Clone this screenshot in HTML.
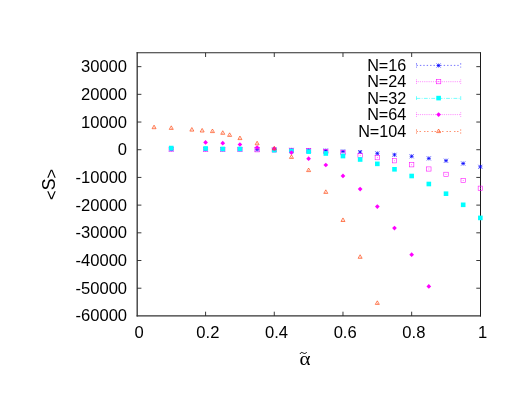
<!DOCTYPE html>
<html><head><meta charset="utf-8"><title>plot</title>
<style>
html,body{margin:0;padding:0;background:#fff;}
body{width:523px;height:404px;position:relative;overflow:hidden;font-family:"Liberation Sans",sans-serif;}
</style></head><body>
<svg width="523" height="404" viewBox="0 0 523 404" style="position:absolute;left:0;top:0;will-change:transform">
<path d="M137.2 52.25V316.5" stroke="#3a3a3a" stroke-width="1.35" fill="none"/>
<path d="M136.6 315.95H481.0" stroke="#333" stroke-width="1.25" fill="none"/>
<path d="M480.5 52.25V316.5" stroke="#1c1c1c" stroke-width="1.0" fill="none"/>
<path d="M136.6 52.8H481.0" stroke="#2a2a2a" stroke-width="1.1" fill="none"/>
<path d="M137.2 288.21h4.2M480.5 288.21h-4.2M137.2 260.51h4.2M480.5 260.51h-4.2M137.2 232.82h4.2M480.5 232.82h-4.2M137.2 205.12h4.2M480.5 205.12h-4.2M137.2 177.43h4.2M480.5 177.43h-4.2M137.2 149.73h4.2M480.5 149.73h-4.2M137.2 122.04h4.2M480.5 122.04h-4.2M137.2 94.34h4.2M480.5 94.34h-4.2M137.2 66.65h4.2M480.5 66.65h-4.2M205.59 315.9v-4.2M205.59 52.8v4.2M274.28 315.9v-4.2M274.28 52.8v4.2M342.97 315.9v-4.2M342.97 52.8v4.2M411.66 315.9v-4.2M411.66 52.8v4.2" stroke="#222" stroke-width="0.9" fill="none"/>
<g font-family="Liberation Sans, sans-serif" font-size="16.6" fill="#000">
<text x="127.1" y="72.45" text-anchor="end">30000</text>
<text x="127.1" y="100.10" text-anchor="end">20000</text>
<text x="127.1" y="127.75" text-anchor="end">10000</text>
<text x="127.1" y="155.40" text-anchor="end">0</text>
<text x="127.1" y="183.05" text-anchor="end">-10000</text>
<text x="127.1" y="210.70" text-anchor="end">-20000</text>
<text x="127.1" y="238.35" text-anchor="end">-30000</text>
<text x="127.1" y="266.00" text-anchor="end">-40000</text>
<text x="127.1" y="293.65" text-anchor="end">-50000</text>
<text x="127.1" y="321.30" text-anchor="end">-60000</text>
<text x="139.20" y="337.7" text-anchor="middle">0</text>
<text x="207.86" y="337.7" text-anchor="middle">0.2</text>
<text x="276.52" y="337.7" text-anchor="middle">0.4</text>
<text x="345.18" y="337.7" text-anchor="middle">0.6</text>
<text x="413.84" y="337.7" text-anchor="middle">0.8</text>
<text x="482.50" y="337.7" text-anchor="middle">1</text>
<text transform="translate(55.2 184.3) rotate(-90)" text-anchor="middle"><tspan dy="1.6">&lt;</tspan><tspan dy="-1.6" font-size="17.7">S</tspan><tspan dy="1.6">&gt;</tspan></text>
<text x="406.3" y="71.15" text-anchor="end" font-size="16.2">N=16</text>
<text x="406.3" y="87.45" text-anchor="end" font-size="16.2">N=24</text>
<text x="406.3" y="103.75" text-anchor="end" font-size="16.2">N=32</text>
<text x="406.3" y="120.15" text-anchor="end" font-size="16.2">N=64</text>
<text x="406.3" y="136.55" text-anchor="end" font-size="16.2">N=104</text>
</g>
<text transform="translate(299.6 364.8) scale(1.12 1)" font-family="Liberation Serif, serif" font-size="18.8" fill="#000">α</text>
<path d="M300.1 353.9 C300.6 352.5 301.6 352.1 302.6 352.7 S304.6 353.8 305.4 353.3 S306.4 352.7 306.8 352.1" stroke="#000" stroke-width="1.0" fill="none"/>
<path d="M416.5 65.4H460.7" stroke="#0000ff" stroke-width="0.55" stroke-dasharray="1.4 2.0" fill="none"/>
<path d="M416.5 63.2v4.4M460.7 63.2v4.4" stroke="#0000ff" stroke-width="0.55" stroke-dasharray="1.4 2.0" fill="none"/>
<path d="M436.60 65.50H440.60M438.60 63.50V67.50M436.60 63.50L440.60 67.50M436.60 67.50L440.60 63.50" stroke="#0000ff" stroke-width="0.7" fill="none"/>
<path d="M416.5 81.7H460.7" stroke="#ff00ff" stroke-width="0.55" stroke-dasharray="0.75 1.1" fill="none"/>
<path d="M416.5 79.5v4.4M460.7 79.5v4.4" stroke="#ff00ff" stroke-width="0.55" stroke-dasharray="0.75 1.1" fill="none"/>
<rect x="436.40" y="79.60" width="4.40" height="4.20" stroke="#ff00ff" stroke-width="0.55" fill="none"/><rect x="438.25" y="81.35" width="0.7" height="0.7" fill="#ff00ff"/>
<path d="M416.5 98.4H460.7" stroke="#00ffff" stroke-width="0.55" stroke-dasharray="3.8 1.4 0.8 1.4" fill="none"/>
<path d="M416.5 96.2v4.4M460.7 96.2v4.4" stroke="#00ffff" stroke-width="0.55" stroke-dasharray="3.8 1.4 0.8 1.4" fill="none"/>
<rect x="436.30" y="95.80" width="4.60" height="4.60" fill="#00ffff"/>
<path d="M416.5 114.6H460.7" stroke="#ff00ff" stroke-width="0.55" stroke-dasharray="0.75 1.1" fill="none"/>
<path d="M416.5 112.39999999999999v4.4M460.7 112.39999999999999v4.4" stroke="#ff00ff" stroke-width="0.55" stroke-dasharray="0.75 1.1" fill="none"/>
<path d="M438.60 112.25L440.95 114.60L438.60 116.95L436.25 114.60Z" fill="#ff00ff"/>
<path d="M416.5 131.5H460.7" stroke="#ff3c00" stroke-width="0.55" stroke-dasharray="1.5 1.5 1.5 3" fill="none"/>
<path d="M416.5 129.3v4.4M460.7 129.3v4.4" stroke="#ff3c00" stroke-width="0.55" stroke-dasharray="1.5 1.5 1.5 3" fill="none"/>
<path d="M438.60 129.04L436.60 132.60H440.60Z" stroke="#ff3c00" stroke-width="0.65" fill="none" stroke-linejoin="miter"/><rect x="438.30" y="131.20" width="0.6" height="0.6" fill="#ff3c00"/>
<path d="M169.25 149.40H173.25M171.25 147.40V151.40M169.25 147.40L173.25 151.40M169.25 151.40L173.25 147.40" stroke="#0000ff" stroke-width="0.7" fill="none"/>
<path d="M203.59 149.40H207.59M205.59 147.40V151.40M203.59 147.40L207.59 151.40M203.59 151.40L207.59 147.40" stroke="#0000ff" stroke-width="0.7" fill="none"/>
<path d="M220.76 149.50H224.76M222.76 147.50V151.50M220.76 147.50L224.76 151.50M220.76 151.50L224.76 147.50" stroke="#0000ff" stroke-width="0.7" fill="none"/>
<path d="M237.94 149.50H241.94M239.94 147.50V151.50M237.94 147.50L241.94 151.50M237.94 151.50L241.94 147.50" stroke="#0000ff" stroke-width="0.7" fill="none"/>
<path d="M255.11 149.60H259.11M257.11 147.60V151.60M255.11 147.60L259.11 151.60M255.11 151.60L259.11 147.60" stroke="#0000ff" stroke-width="0.7" fill="none"/>
<path d="M272.28 149.70H276.28M274.28 147.70V151.70M272.28 147.70L276.28 151.70M272.28 151.70L276.28 147.70" stroke="#0000ff" stroke-width="0.7" fill="none"/>
<path d="M289.45 149.90H293.45M291.45 147.90V151.90M289.45 147.90L293.45 151.90M289.45 151.90L293.45 147.90" stroke="#0000ff" stroke-width="0.7" fill="none"/>
<path d="M306.62 150.10H310.62M308.62 148.10V152.10M306.62 148.10L310.62 152.10M306.62 152.10L310.62 148.10" stroke="#0000ff" stroke-width="0.7" fill="none"/>
<path d="M323.80 150.50H327.80M325.80 148.50V152.50M323.80 148.50L327.80 152.50M323.80 152.50L327.80 148.50" stroke="#0000ff" stroke-width="0.7" fill="none"/>
<path d="M340.97 151.40H344.97M342.97 149.40V153.40M340.97 149.40L344.97 153.40M340.97 153.40L344.97 149.40" stroke="#0000ff" stroke-width="0.7" fill="none"/>
<path d="M358.14 152.00H362.14M360.14 150.00V154.00M358.14 150.00L362.14 154.00M358.14 154.00L362.14 150.00" stroke="#0000ff" stroke-width="0.7" fill="none"/>
<path d="M375.32 153.40H379.32M377.32 151.40V155.40M375.32 151.40L379.32 155.40M375.32 155.40L379.32 151.40" stroke="#0000ff" stroke-width="0.7" fill="none"/>
<path d="M392.49 154.80H396.49M394.49 152.80V156.80M392.49 152.80L396.49 156.80M392.49 156.80L396.49 152.80" stroke="#0000ff" stroke-width="0.7" fill="none"/>
<path d="M409.66 156.30H413.66M411.66 154.30V158.30M409.66 154.30L413.66 158.30M409.66 158.30L413.66 154.30" stroke="#0000ff" stroke-width="0.7" fill="none"/>
<path d="M426.83 158.40H430.83M428.83 156.40V160.40M426.83 156.40L430.83 160.40M426.83 160.40L430.83 156.40" stroke="#0000ff" stroke-width="0.7" fill="none"/>
<path d="M444.01 160.70H448.01M446.01 158.70V162.70M444.01 158.70L448.01 162.70M444.01 162.70L448.01 158.70" stroke="#0000ff" stroke-width="0.7" fill="none"/>
<path d="M461.18 163.50H465.18M463.18 161.50V165.50M461.18 161.50L465.18 165.50M461.18 165.50L465.18 161.50" stroke="#0000ff" stroke-width="0.7" fill="none"/>
<path d="M478.35 166.80H482.35M480.35 164.80V168.80M478.35 164.80L482.35 168.80M478.35 168.80L482.35 164.80" stroke="#0000ff" stroke-width="0.7" fill="none"/>
<rect x="169.05" y="147.00" width="4.40" height="4.20" stroke="#ff00ff" stroke-width="0.55" fill="none"/><rect x="170.90" y="148.75" width="0.7" height="0.7" fill="#ff00ff"/>
<rect x="203.39" y="147.30" width="4.40" height="4.20" stroke="#ff00ff" stroke-width="0.55" fill="none"/><rect x="205.24" y="149.05" width="0.7" height="0.7" fill="#ff00ff"/>
<rect x="220.56" y="147.40" width="4.40" height="4.20" stroke="#ff00ff" stroke-width="0.55" fill="none"/><rect x="222.41" y="149.15" width="0.7" height="0.7" fill="#ff00ff"/>
<rect x="237.74" y="147.50" width="4.40" height="4.20" stroke="#ff00ff" stroke-width="0.55" fill="none"/><rect x="239.59" y="149.25" width="0.7" height="0.7" fill="#ff00ff"/>
<rect x="254.91" y="147.70" width="4.40" height="4.20" stroke="#ff00ff" stroke-width="0.55" fill="none"/><rect x="256.76" y="149.45" width="0.7" height="0.7" fill="#ff00ff"/>
<rect x="272.08" y="147.90" width="4.40" height="4.20" stroke="#ff00ff" stroke-width="0.55" fill="none"/><rect x="273.93" y="149.65" width="0.7" height="0.7" fill="#ff00ff"/>
<rect x="289.25" y="148.20" width="4.40" height="4.20" stroke="#ff00ff" stroke-width="0.55" fill="none"/><rect x="291.10" y="149.95" width="0.7" height="0.7" fill="#ff00ff"/>
<rect x="306.43" y="148.70" width="4.40" height="4.20" stroke="#ff00ff" stroke-width="0.55" fill="none"/><rect x="308.27" y="150.45" width="0.7" height="0.7" fill="#ff00ff"/>
<rect x="323.60" y="149.50" width="4.40" height="4.20" stroke="#ff00ff" stroke-width="0.55" fill="none"/><rect x="325.45" y="151.25" width="0.7" height="0.7" fill="#ff00ff"/>
<rect x="340.77" y="150.70" width="4.40" height="4.20" stroke="#ff00ff" stroke-width="0.55" fill="none"/><rect x="342.62" y="152.45" width="0.7" height="0.7" fill="#ff00ff"/>
<rect x="357.94" y="153.35" width="4.40" height="4.20" stroke="#ff00ff" stroke-width="0.55" fill="none"/><rect x="359.79" y="155.10" width="0.7" height="0.7" fill="#ff00ff"/>
<rect x="375.12" y="155.60" width="4.40" height="4.20" stroke="#ff00ff" stroke-width="0.55" fill="none"/><rect x="376.97" y="157.35" width="0.7" height="0.7" fill="#ff00ff"/>
<rect x="392.29" y="158.70" width="4.40" height="4.20" stroke="#ff00ff" stroke-width="0.55" fill="none"/><rect x="394.14" y="160.45" width="0.7" height="0.7" fill="#ff00ff"/>
<rect x="409.46" y="162.70" width="4.40" height="4.20" stroke="#ff00ff" stroke-width="0.55" fill="none"/><rect x="411.31" y="164.45" width="0.7" height="0.7" fill="#ff00ff"/>
<rect x="426.63" y="166.90" width="4.40" height="4.20" stroke="#ff00ff" stroke-width="0.55" fill="none"/><rect x="428.48" y="168.65" width="0.7" height="0.7" fill="#ff00ff"/>
<rect x="443.81" y="172.20" width="4.40" height="4.20" stroke="#ff00ff" stroke-width="0.55" fill="none"/><rect x="445.66" y="173.95" width="0.7" height="0.7" fill="#ff00ff"/>
<rect x="460.98" y="178.50" width="4.40" height="4.20" stroke="#ff00ff" stroke-width="0.55" fill="none"/><rect x="462.83" y="180.25" width="0.7" height="0.7" fill="#ff00ff"/>
<rect x="478.15" y="186.10" width="4.40" height="4.20" stroke="#ff00ff" stroke-width="0.55" fill="none"/><rect x="480.00" y="187.85" width="0.7" height="0.7" fill="#ff00ff"/>
<rect x="168.94" y="145.75" width="4.60" height="4.60" fill="#00ffff"/>
<rect x="203.29" y="146.15" width="4.60" height="4.60" fill="#00ffff"/>
<rect x="220.46" y="146.65" width="4.60" height="4.60" fill="#00ffff"/>
<rect x="237.63" y="146.65" width="4.60" height="4.60" fill="#00ffff"/>
<rect x="271.98" y="147.85" width="4.60" height="4.60" fill="#00ffff"/>
<rect x="289.15" y="148.75" width="4.60" height="4.60" fill="#00ffff"/>
<rect x="306.32" y="149.35" width="4.60" height="4.60" fill="#00ffff"/>
<rect x="323.50" y="151.20" width="4.60" height="4.60" fill="#00ffff"/>
<rect x="340.67" y="153.75" width="4.60" height="4.60" fill="#00ffff"/>
<rect x="357.84" y="157.20" width="4.60" height="4.60" fill="#00ffff"/>
<rect x="375.02" y="161.55" width="4.60" height="4.60" fill="#00ffff"/>
<rect x="392.19" y="167.00" width="4.60" height="4.60" fill="#00ffff"/>
<rect x="409.36" y="173.70" width="4.60" height="4.60" fill="#00ffff"/>
<rect x="426.53" y="181.70" width="4.60" height="4.60" fill="#00ffff"/>
<rect x="443.71" y="191.40" width="4.60" height="4.60" fill="#00ffff"/>
<rect x="460.88" y="202.50" width="4.60" height="4.60" fill="#00ffff"/>
<rect x="478.05" y="215.60" width="4.60" height="4.60" fill="#00ffff"/>
<path d="M205.59 140.05L207.94 142.40L205.59 144.75L203.24 142.40Z" fill="#ff00ff"/>
<path d="M222.76 140.85L225.11 143.20L222.76 145.55L220.41 143.20Z" fill="#ff00ff"/>
<path d="M239.94 142.15L242.28 144.50L239.94 146.85L237.59 144.50Z" fill="#ff00ff"/>
<path d="M257.11 145.15L259.46 147.50L257.11 149.85L254.76 147.50Z" fill="#ff00ff"/>
<path d="M274.28 146.35L276.63 148.70L274.28 151.05L271.93 148.70Z" fill="#ff00ff"/>
<path d="M291.45 150.25L293.80 152.60L291.45 154.95L289.10 152.60Z" fill="#ff00ff"/>
<path d="M308.62 156.35L310.98 158.70L308.62 161.05L306.27 158.70Z" fill="#ff00ff"/>
<path d="M325.80 162.65L328.15 165.00L325.80 167.35L323.45 165.00Z" fill="#ff00ff"/>
<path d="M342.97 173.55L345.32 175.90L342.97 178.25L340.62 175.90Z" fill="#ff00ff"/>
<path d="M360.14 186.75L362.49 189.10L360.14 191.45L357.79 189.10Z" fill="#ff00ff"/>
<path d="M377.32 204.25L379.67 206.60L377.32 208.95L374.97 206.60Z" fill="#ff00ff"/>
<path d="M394.49 225.75L396.84 228.10L394.49 230.45L392.14 228.10Z" fill="#ff00ff"/>
<path d="M411.66 252.35L414.01 254.70L411.66 257.05L409.31 254.70Z" fill="#ff00ff"/>
<path d="M428.83 284.10L431.18 286.45L428.83 288.80L426.48 286.45Z" fill="#ff00ff"/>
<path d="M154.07 125.14L152.07 128.70H156.07Z" stroke="#ff3c00" stroke-width="0.65" fill="none" stroke-linejoin="miter"/><rect x="153.77" y="127.30" width="0.6" height="0.6" fill="#ff3c00"/>
<path d="M171.25 125.84L169.25 129.40H173.25Z" stroke="#ff3c00" stroke-width="0.65" fill="none" stroke-linejoin="miter"/><rect x="170.94" y="128.00" width="0.6" height="0.6" fill="#ff3c00"/>
<path d="M191.85 127.54L189.85 131.10H193.85Z" stroke="#ff3c00" stroke-width="0.65" fill="none" stroke-linejoin="miter"/><rect x="191.55" y="129.70" width="0.6" height="0.6" fill="#ff3c00"/>
<path d="M202.16 128.44L200.16 132.00H204.16Z" stroke="#ff3c00" stroke-width="0.65" fill="none" stroke-linejoin="miter"/><rect x="201.86" y="130.60" width="0.6" height="0.6" fill="#ff3c00"/>
<path d="M212.46 129.04L210.46 132.60H214.46Z" stroke="#ff3c00" stroke-width="0.65" fill="none" stroke-linejoin="miter"/><rect x="212.16" y="131.20" width="0.6" height="0.6" fill="#ff3c00"/>
<path d="M222.76 130.74L220.76 134.30H224.76Z" stroke="#ff3c00" stroke-width="0.65" fill="none" stroke-linejoin="miter"/><rect x="222.46" y="132.90" width="0.6" height="0.6" fill="#ff3c00"/>
<path d="M229.63 132.84L227.63 136.40H231.63Z" stroke="#ff3c00" stroke-width="0.65" fill="none" stroke-linejoin="miter"/><rect x="229.33" y="135.00" width="0.6" height="0.6" fill="#ff3c00"/>
<path d="M239.94 136.04L237.94 139.60H241.94Z" stroke="#ff3c00" stroke-width="0.65" fill="none" stroke-linejoin="miter"/><rect x="239.63" y="138.20" width="0.6" height="0.6" fill="#ff3c00"/>
<path d="M257.11 141.24L255.11 144.80H259.11Z" stroke="#ff3c00" stroke-width="0.65" fill="none" stroke-linejoin="miter"/><rect x="256.81" y="143.40" width="0.6" height="0.6" fill="#ff3c00"/>
<path d="M274.28 146.34L272.28 149.90H276.28Z" stroke="#ff3c00" stroke-width="0.65" fill="none" stroke-linejoin="miter"/><rect x="273.98" y="148.50" width="0.6" height="0.6" fill="#ff3c00"/>
<path d="M291.45 154.84L289.45 158.40H293.45Z" stroke="#ff3c00" stroke-width="0.65" fill="none" stroke-linejoin="miter"/><rect x="291.15" y="157.00" width="0.6" height="0.6" fill="#ff3c00"/>
<path d="M308.62 168.04L306.62 171.60H310.62Z" stroke="#ff3c00" stroke-width="0.65" fill="none" stroke-linejoin="miter"/><rect x="308.32" y="170.20" width="0.6" height="0.6" fill="#ff3c00"/>
<path d="M325.80 189.84L323.80 193.40H327.80Z" stroke="#ff3c00" stroke-width="0.65" fill="none" stroke-linejoin="miter"/><rect x="325.50" y="192.00" width="0.6" height="0.6" fill="#ff3c00"/>
<path d="M342.97 217.94L340.97 221.50H344.97Z" stroke="#ff3c00" stroke-width="0.65" fill="none" stroke-linejoin="miter"/><rect x="342.67" y="220.10" width="0.6" height="0.6" fill="#ff3c00"/>
<path d="M360.14 254.74L358.14 258.30H362.14Z" stroke="#ff3c00" stroke-width="0.65" fill="none" stroke-linejoin="miter"/><rect x="359.84" y="256.90" width="0.6" height="0.6" fill="#ff3c00"/>
<path d="M377.32 300.84L375.32 304.40H379.32Z" stroke="#ff3c00" stroke-width="0.65" fill="none" stroke-linejoin="miter"/><rect x="377.02" y="303.00" width="0.6" height="0.6" fill="#ff3c00"/>
</svg>
</body></html>
